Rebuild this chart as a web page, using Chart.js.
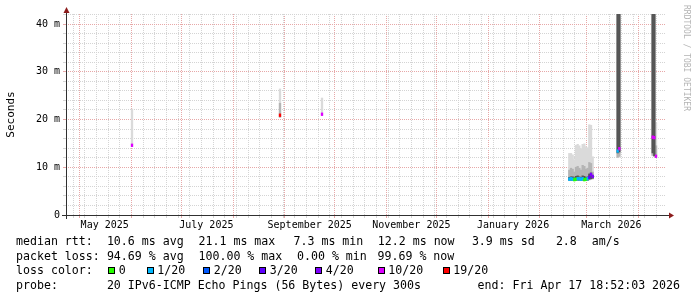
<!DOCTYPE html>
<html>
<head>
<meta charset="utf-8">
<script src="https://cdn.jsdelivr.net/npm/chart.js@4.4.0/dist/chart.umd.min.js"></script>
<style>
  html, body { margin: 0; padding: 0; background: #fff; }
  #wrap { position: relative; width: 697px; height: 297px; overflow: hidden; background: #fff; }
  #chart { position: absolute; left: 0; top: 0; }
  .lg { position: absolute; font: 11.6px 'DejaVu Sans Mono', monospace; line-height: 14px; white-space: pre; color: #000; }
  .sw { position: absolute; width: 5px; height: 5px; border: 1px solid #000; }
  #mark { position: absolute; left: 681px; top: 5px; writing-mode: vertical-rl; font: 8px 'DejaVu Sans Mono', monospace; line-height: 10px; color: #b4b4b4; }
</style>
</head>
<body>
<div id="wrap">
  <canvas id="chart" width="697" height="297"></canvas>
  <div id="legend"></div>
  <div id="mark">RRDTOOL / TOBI OETIKER</div>
</div>
<script>
const DAY = 86400000;
const endTime = Date.UTC(2026, 3, 17, 18, 52, 3);
const spanDays = 360;
const startTime = endTime - spanDays * DAY;

// x labels: every second month, placed half a month in
const monthLabels = ['May 2025', 'July 2025', 'September 2025', 'November 2025', 'January 2026', 'March 2026'];
const labelMonths = [[2025, 4], [2025, 6], [2025, 8], [2025, 10], [2026, 0], [2026, 2]];

// y axis (ms), labelled every 10, minor grid every 2
const yMax = 42.1;
const yMajor = 10;
const yMinor = 2;

// samples: days after graph start
const sampleDay = [39.6, 128.4, 153.6,
  302, 303, 304, 305, 306, 307, 308, 309, 310, 311, 312, 313, 314, 315, 316,
  331, 332, 352, 353, 354];
// smoke bands (ms), outer to inner
const lightLo = [14.6, 20.4, 21.0, 7.2, 7.2, 7.2, 7.2, 7.2, 7.2, 7.2, 7.2, 7.2, 7.2, 7.2, 7.2, 7.3, 7.4, 7.5, 12.0, 12.1, 12.4, 12.2, 12.2];
const lightHi = [22.2, 26.4, 24.5, 12.9, 12.9, 12.6, 11.6, 14.6, 14.8, 14.5, 13.9, 14.8, 14.9, 14.3, 14.1, 18.9, 18.8, 12.2, 45, 45, 45, 45, 19.3];
const midLo = [null, 20.5, null, 7.3, 7.3, 7.3, 7.3, 7.3, 7.3, 7.3, 7.3, 7.3, 7.3, 7.3, 7.3, 7.4, 7.5, 7.6, 12.1, 12.3, 12.5, 12.3, 12.3];
const midHi = [null, 23.4, null, 9.4, 9.8, 9.6, 9.0, 10.0, 10.2, 9.8, 9.4, 10.4, 10.2, 9.6, 9.8, 11.0, 10.8, 9.0, 45, 45, 45, 45, 14.5];
const darkLo = [null, null, null, 7.3, 7.3, 7.3, 7.3, 7.3, 7.3, 7.3, 7.3, 7.3, 7.3, 7.3, 7.3, 7.5, 7.6, 7.7, 13.0, 13.2, 13.0, 12.4, null];
const darkHi = [null, null, null, 7.9, 8.0, 8.0, 7.8, 8.1, 8.2, 8.0, 7.9, 8.2, 8.1, 7.9, 8.0, 8.6, 8.8, 8.2, 45, 45, 45, 45, null];
const medianRtt = [14.6, 20.9, 21.1, 7.5, 7.6, 7.5, 7.4, 7.5, 7.6, 7.6, 7.5, 7.6, 7.4, 7.5, 7.6, 7.9, 8.5, 8.1, 13.4, 13.9, 16.3, 16.2, 12.3];
const lostPings = [10, 19, 10, 1, 1, 1, 0, 0, 1, 1, 1, 1, 0, 0, 1, 3, 4, 4, 1, 10, 10, 10, 10];

const lossSteps = [0, 1, 2, 3, 4, 10, 19];
const lossStepLabels = ['0', '1/20', '2/20', '3/20', '4/20', '10/20', '19/20'];
const lossColors = ['#26ff00', '#00b8ff', '#0059ff', '#5e00ff', '#7e00ff', '#dd00ff', '#ff0000'];

const rttLegend = ['median rtt:', '10.6 ms avg', '21.1 ms max', '7.3 ms min', '12.2 ms now', '3.9 ms sd', '2.8', 'am/s'];
const lossLegend = ['packet loss:', '94.69 % avg', '100.00 % max', '0.00 % min', '99.69 % now'];
const probeLegend = ['probe:', '20 IPv6-ICMP Echo Pings (56 Bytes) every 300s', 'end: Fri Apr 17 18:52:03 2026'];

function dayOf(y, m, d) {
  return (Date.UTC(y, m, d) - startTime) / DAY;
}

function lossColor(n) {
  let c = lossColors[0];
  lossSteps.forEach((s, i) => { if (n >= s) c = lossColors[i]; });
  return c;
}

// x grid: weekly (sundays) minor, month starts major
const tickKind = new Map();
for (let t = Date.UTC(2025, 3, 27); t < endTime; t += 7 * DAY) {
  tickKind.set((t - startTime) / DAY, 'week');
}
for (let y = 2025, m = 3; y * 12 + m <= 2026 * 12 + 3; m++) {
  if (m > 11) { m = 0; y++; }
  const d = dayOf(y, m, 1);
  if (d > 0 && d < spanDays) tickKind.set(d, 'month');
}
const labelAt = new Map();
labelMonths.forEach(([y, m], i) => {
  const d = dayOf(y, m, 1) + 15;
  labelAt.set(d, monthLabels[i]);
  if (!tickKind.has(d)) tickKind.set(d, 'label');
});
const xTicks = [...tickKind.keys()].sort((a, b) => a - b);

const minorGrid = '#d4d4d4';
const majorGrid = '#e7a8a8';
const dayPx = 600 / spanDays;

function band(lo, hi, color, order) {
  return {
    type: 'bar',
    data: sampleDay.map((d, i) => lo[i] == null ? null : { x: d, y: [lo[i], hi[i]] }).filter(Boolean),
    backgroundColor: color,
    borderWidth: 0,
    barThickness: dayPx,
    grouped: false,
    order
  };
}

const axisArrows = {
  id: 'axisArrows',
  afterDraw(chart) {
    const { ctx, chartArea: a } = chart;
    ctx.save();
    ctx.strokeStyle = '#303030';
    ctx.lineWidth = 1;
    ctx.beginPath();
    ctx.moveTo(a.left + 0.5, a.bottom + 4);
    ctx.lineTo(a.left + 0.5, a.top - 3);
    ctx.moveTo(a.left - 4, a.bottom + 0.5);
    ctx.lineTo(a.right + 4, a.bottom + 0.5);
    ctx.stroke();
    ctx.fillStyle = '#8c1c1c';
    ctx.beginPath();
    ctx.moveTo(a.left + 0.5, a.top - 7);
    ctx.lineTo(a.left - 2.5, a.top - 1);
    ctx.lineTo(a.left + 3.5, a.top - 1);
    ctx.fill();
    ctx.beginPath();
    ctx.moveTo(a.right + 8, a.bottom + 0.5);
    ctx.lineTo(a.right + 3, a.bottom - 2.5);
    ctx.lineTo(a.right + 3, a.bottom + 3.5);
    ctx.fill();
    ctx.restore();
  }
};

new Chart(document.getElementById('chart'), {
  type: 'bar',
  data: {
    datasets: [
      {
        type: 'bar',
        data: sampleDay.map((d, i) => ({ x: d, y: [medianRtt[i] - 0.28, medianRtt[i] + 0.28] })),
        backgroundColor: lostPings.map(lossColor),
        borderWidth: 0,
        barThickness: dayPx,
        grouped: false,
        order: 0
      },
      band(darkLo, darkHi, '#555555', 1),
      band(midLo, midHi, '#b4b4b4', 2),
      band(lightLo, lightHi, '#dadada', 3)
    ]
  },
  options: {
    responsive: false,
    animation: false,
    devicePixelRatio: 1,
    layout: { padding: { top: 14, right: 31, left: 0, bottom: 0 } },
    plugins: { legend: { display: false }, tooltip: { enabled: false } },
    scales: {
      x: {
        type: 'linear',
        min: 0,
        max: spanDays,
        offset: false,
        afterBuildTicks: s => { s.ticks = xTicks.map(v => ({ value: v })); },
        afterFit: s => { s.height = 82; },
        grid: {
          offset: false,
          lineWidth: 1,
          tickLength: 3,
          color: c => {
            const k = c.tick && tickKind.get(c.tick.value);
            return k === 'month' ? majorGrid : k === 'week' ? minorGrid : 'rgba(0,0,0,0)';
          }
        },
        border: { display: false, dash: [1, 1] },
        ticks: {
          autoSkip: false,
          maxRotation: 0,
          minRotation: 0,
          padding: 1,
          color: '#000',
          font: { family: 'DejaVu Sans Mono', size: 10 },
          callback: v => labelAt.get(v) || ''
        }
      },
      y: {
        min: 0,
        max: yMax,
        afterBuildTicks: s => {
          const t = [];
          for (let v = 0; v <= yMax; v += yMinor) t.push({ value: v });
          s.ticks = t;
        },
        afterFit: s => { s.width = 66; },
        grid: {
          lineWidth: 1,
          tickLength: 3,
          color: c => (c.tick && c.tick.value % yMajor === 0) ? majorGrid : minorGrid
        },
        border: { display: false, dash: [1, 1] },
        ticks: {
          autoSkip: false,
          padding: 3,
          color: '#000',
          font: { family: 'DejaVu Sans Mono', size: 10 },
          callback: v => v % yMajor !== 0 ? '' : (v === 0 ? '0' : v + ' m')
        },
        title: {
          display: true,
          text: 'Seconds',
          color: '#000',
          font: { family: 'DejaVu Sans Mono', size: 11 },
          padding: { top: 4.5, bottom: 4 }
        }
      }
    }
  },
  plugins: [axisArrows]
});

// legend rows under the plot
const legend = document.getElementById('legend');
function addText(text, x, top) {
  const el = document.createElement('div');
  el.className = 'lg';
  el.textContent = text;
  el.style.left = x + 'px';
  el.style.top = top + 'px';
  legend.appendChild(el);
}
const rowTop = [234, 248.5, 263, 277.5];
[16, 106.9, 198.5, 293.5, 377.8, 471.9, 555.9, 591.8].forEach((x, i) => addText(rttLegend[i], x, rowTop[0]));
[16, 106.9, 198.5, 297, 377.5].forEach((x, i) => addText(lossLegend[i], x, rowTop[1]));
addText('loss color:', 16, rowTop[2]);
[108, 146.5, 203, 259, 315, 377.5, 442.5].forEach((x, i) => {
  const sw = document.createElement('div');
  sw.className = 'sw';
  sw.style.left = x + 'px';
  sw.style.top = (rowTop[2] + 3.5) + 'px';
  sw.style.background = lossColors[i];
  legend.appendChild(sw);
  addText(lossStepLabels[i], x + 10.8, rowTop[2]);
});
[16, 106.9, 477.6].forEach((x, i) => addText(probeLegend[i], x, rowTop[3]));
</script>
</body>
</html>
